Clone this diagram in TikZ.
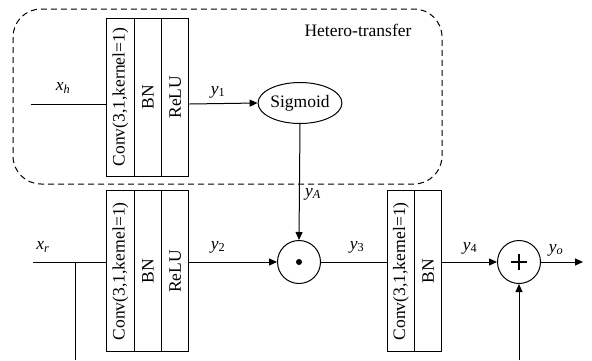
\documentclass[tikz,border=0pt]{standalone}
\usepackage{fontspec}
\setmainfont{Liberation Serif}
\usetikzlibrary{arrows.meta,shapes.geometric}

\newcommand{\lbl}[2]{\textit{#1}\textsubscript{#2}}

\begin{document}
\begin{tikzpicture}[x=1pt,y=-1pt,line width=1pt,
  every node/.style={font=\fontsize{17.5}{20}\selectfont},
  layertop/.style={draw,minimum width=27.4pt,minimum height=157.7pt,inner sep=0pt},
  layerbot/.style={draw,minimum width=27.4pt,minimum height=161.3pt,inner sep=0pt},
  opcircle/.style={draw,circle,minimum size=43pt,inner sep=0pt},
  flow/.style={-{Triangle[length=8pt,width=7pt]}},
  lab/.style={inner sep=0pt}]
\useasboundingbox (0,0) rectangle (592,360);

% attention branch
\draw[dash pattern=on 6pt off 4pt,rounded corners=28pt] (13,9) rectangle (442,184);
\node[lab] (ht) at (358,30) {Hetero-transfer};

\node[layertop] (conv1) at (120.4,97.2) {\rotatebox{90}{Conv(3,1,kernel=1)}};
\node[layertop] (bn1)   at (147.8,97.2) {\rotatebox{90}{BN}};
\node[layertop] (relu1) at (175.2,97.2) {\rotatebox{90}{ReLU}};
\node[draw,ellipse,minimum width=74pt,minimum height=41pt,inner sep=0pt] (sig) at (300,103) {Sigmoid};

% main branch
\node[layerbot] (conv2) at (120.4,271.3) {\rotatebox{90}{Conv(3,1,kernel=1)}};
\node[layerbot] (bn2)   at (147.8,271.3) {\rotatebox{90}{BN}};
\node[layerbot] (relu2) at (175.2,271.3) {\rotatebox{90}{ReLU}};
\node[opcircle] (dot) at (299,262) {};
\fill (dot.center) circle (3pt);
\node[layerbot] (conv3) at (400.8,271.3) {\rotatebox{90}{Conv(3,1,kernel=1)}};
\node[layerbot] (bn3)   at (428.2,271.3) {\rotatebox{90}{BN}};
\node[opcircle] (plus) at (519,262) {};
\draw[line width=1.8pt] ([xshift=-7.7pt]plus.center) -- ([xshift=7.7pt]plus.center)
  ([yshift=-7.7pt]plus.center) -- ([yshift=7.7pt]plus.center);

% inputs and outputs
\coordinate (xh) at (31,104);
\coordinate (xr) at (33,262);
\coordinate (br) at (75,262);
\coordinate (brd) at (75,360);
\coordinate (skip) at (519,360);
\coordinate (out) at (583,262);

% connectors
\draw (xh) -- (conv1.west |- xh);
\draw[flow] (relu1.east |- xh) -- (sig.west);
\draw[flow] (sig.south) -- (dot.north);
\draw (xr) -- (conv2.west |- xr);
\draw (br) -- (brd);
\draw[flow] (relu2.east |- xr) -- (dot.west);
\draw (dot.east) -- (conv3.west |- dot);
\draw[flow] (bn3.east |- dot) -- (plus.west);
\draw[flow] (plus.east) -- (out);
\draw[flow] (skip) -- (plus.south);

% signal labels
\node[lab] (lxh) at (63,88) {\lbl{x}{\textit{h}}};
\node[lab] (ly1) at (218,92) {\lbl{y}{1}};
\node[lab] (lya) at (313,194) {\lbl{y}{\textit{A}}};
\node[lab] (lxr) at (43,247) {\lbl{x}{\textit{r}}};
\node[lab] (ly2) at (218,247) {\lbl{y}{2}};
\node[lab] (ly3) at (357,247) {\lbl{y}{3}};
\node[lab] (ly4) at (470,248) {\lbl{y}{4}};
\node[lab] (lyo) at (556,250) {\lbl{y}{\textit{o}}};
\end{tikzpicture}
\end{document}
